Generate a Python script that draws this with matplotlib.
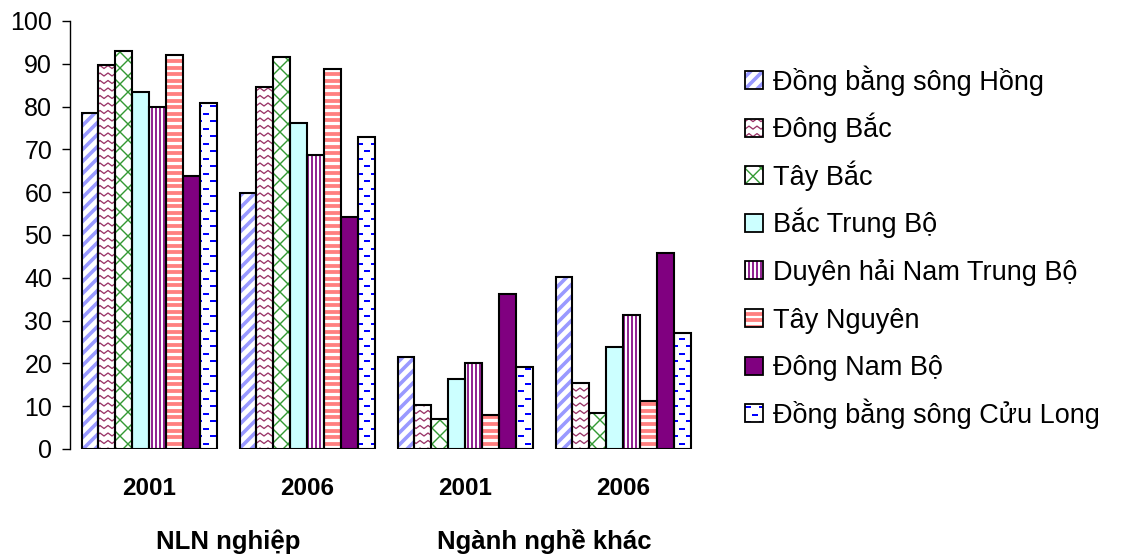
import numpy as np
import matplotlib
matplotlib.use("Agg")
import matplotlib.pyplot as plt
from matplotlib.collections import LineCollection
from matplotlib.patches import Rectangle
from matplotlib.transforms import IdentityTransform, blended_transform_factory
from matplotlib.legend_handler import HandlerBase

plt.rcParams["font.family"] = ["Liberation Sans", "DejaVu Sans"]

# ---- data -------------------------------------------------------------
year_labels = ["2001", "2006", "2001", "2006"]
sector_labels = ["NLN nghiệp", "Ngành nghề khác"]

regions = [
    "Đồng bằng sông Hồng",
    "Đông Bắc",
    "Tây Bắc",
    "Bắc Trung Bộ",
    "Duyên hải Nam Trung Bộ",
    "Tây Nguyên",
    "Đông Nam Bộ",
    "Đồng bằng sông Cửu Long",
]

dong_bang_song_hong = [78.5, 59.8, 21.5, 40.2]
dong_bac = [89.7, 84.5, 10.3, 15.5]
tay_bac = [92.9, 91.6, 7.0, 8.3]
bac_trung_bo = [83.5, 76.1, 16.4, 23.8]
duyen_hai_nam_trung_bo = [79.8, 68.7, 20.0, 31.2]
tay_nguyen = [92.0, 88.7, 8.0, 11.3]
dong_nam_bo = [63.9, 54.2, 36.1, 45.7]
dong_bang_song_cuu_long = [80.8, 72.8, 19.1, 27.1]

series = [dong_bang_song_hong, dong_bac, tay_bac, bac_trung_bo,
          duyen_hai_nam_trung_bo, tay_nguyen, dong_nam_bo,
          dong_bang_song_cuu_long]

# fill style of each region: (pattern kind, background, pattern colour)
styles = [
    ("diag", "white", "#9999FF"),
    ("zigzag", "white", "#993366"),
    ("cross", "white", "#339933"),
    (None, "#CCFFFF", None),
    ("vstripe", "white", "#800080"),
    ("hstripe", "white", "#FF8080"),
    (None, "#800080", None),
    ("dash", "white", "#0000FF"),
]

FS_TICK = 18
FS_YEAR = 17.5
FS_SECTOR = 18.5
FS_LEG = 19.5
PX = 0.72  # points per pixel at 100 dpi


def pattern_segments(kind, x0, y0, x1, y1):
    """Line segments (pixel space) tiling the box for a given fill pattern."""
    segs = []
    if kind == "diag":
        p = 12.0
        for c in np.arange(np.floor((x0 - y1) / p) * p, x1 - y0 + p, p):
            segs.append([(y0 + c - 2, y0 - 2), (y1 + c + 2, y1 + 2)])
        return segs, 3.6 * PX
    if kind == "cross":
        p = 16.0
        for c in np.arange(np.floor((x0 - y1) / p) * p, x1 - y0 + p, p):
            segs.append([(y0 + c - 2, y0 - 2), (y1 + c + 2, y1 + 2)])
        for c in np.arange(np.floor((x0 + y0) / p) * p, x1 + y1 + p, p):
            segs.append([(c - y0 + 2, y0 - 2), (c - y1 - 2, y1 + 2)])
        return segs, 1.4 * PX
    if kind == "zigzag":
        py, px, amp = 7.5, 8.0, 3.0
        xs = np.arange(np.floor(x0 / px) * px - px, x1 + px, px / 2)
        for r in np.arange(np.floor(y0 / py) * py - py, y1 + py, py):
            pts = [(xx, r + (amp if i % 2 else 0.0)) for i, xx in enumerate(xs)]
            segs.append(pts)
        return segs, 1.3 * PX
    if kind == "vstripe":
        p = 4.0
        for xx in np.arange(np.floor(x0 / p) * p, x1 + p, p):
            segs.append([(xx, y0 - 1), (xx, y1 + 1)])
        return segs, 1.7 * PX
    if kind == "hstripe":
        p = 6.6
        for yy in np.arange(np.floor(y0 / p) * p, y1 + p, p):
            segs.append([(x0 - 1, yy), (x1 + 1, yy)])
        return segs, 3.8 * PX
    if kind == "dash":
        py, px, ln = 7.5, 14.0, 5.5
        for r in np.arange(np.floor(y0 / py) * py, y1 + py, py):
            shift = (int(round(r / py)) % 2) * px / 2
            for xx in np.arange(np.floor(x0 / px) * px - px + shift, x1 + px, px):
                segs.append([(xx, r), (xx + ln, r)])
        return segs, 2.0 * PX
    return segs, 1.0


# ---- figure -----------------------------------------------------------
W, H = 1134, 556
fig = plt.figure(figsize=(W / 100, H / 100), dpi=100)
ax_left, ax_right, ax_top, ax_bottom = 70, 702, 21, 449
ax = fig.add_axes([ax_left / W, (H - ax_bottom) / H,
                   (ax_right - ax_left) / W, (ax_bottom - ax_top) / H])
ax.set_xlim(-0.5, 3.5)
ax.set_ylim(0, 100)

x = np.arange(len(year_labels))
n = len(series)
bw = 135.0 / 158.0 / n

for i, (vals, (kind, face, pcol)) in enumerate(zip(series, styles)):
    pos = x + (i - (n - 1) / 2) * bw
    bars = ax.bar(pos, vals, width=bw, color=face, edgecolor="none",
                  linewidth=0, zorder=2)
    if kind is not None:
        for patch in bars.patches:
            (dx0, dy0), (dx1, dy1) = ax.transData.transform(
                [[patch.get_x(), patch.get_y()],
                 [patch.get_x() + patch.get_width(),
                  patch.get_y() + patch.get_height()]])
            segs, lw = pattern_segments(kind, dx0, dy0, dx1, dy1)
            lc = LineCollection(segs, colors=pcol, linewidths=lw,
                                transform=IdentityTransform(), zorder=2.5,
                                capstyle="butt")
            ax.add_collection(lc, autolim=False)
            lc.set_clip_path(patch.get_path(), patch.get_transform())
    ax.bar(pos, vals, width=bw, fill=False, edgecolor="black",
           linewidth=1.5, zorder=3)

# axes styling
for side in ("top", "right", "bottom"):
    ax.spines[side].set_visible(False)
ax.spines["left"].set_linewidth(1.0)
ax.set_yticks(np.arange(0, 101, 10))
ax.tick_params(axis="y", direction="out", length=5.8, width=1.0,
               pad=7, labelsize=FS_TICK)
ax.set_xticks(x)
ax.set_xticklabels(year_labels, fontweight="bold", fontsize=FS_YEAR)
ax.tick_params(axis="x", length=0, pad=20)

trans = blended_transform_factory(ax.transData, ax.transAxes)
for j, lab in enumerate(sector_labels):
    ax.text(x[2 * j:2 * j + 2].mean(), -100 / 428, lab, transform=trans,
            ha="center", va="baseline", fontsize=FS_SECTOR,
            fontweight="bold")


# ---- legend -----------------------------------------------------------
SQ = 13.0  # legend swatch size, points


class PatternHandler(HandlerBase):
    def __init__(self, kind, face, pcol):
        super().__init__()
        self.kind, self.face, self.pcol = kind, face, pcol

    def create_artists(self, legend, orig_handle, xdescent, ydescent,
                       width, height, fontsize, trans):
        x0 = -xdescent
        y0 = 0.358 * fontsize - SQ / 2
        base = Rectangle((x0, y0), SQ, SQ, facecolor=self.face,
                         edgecolor="none", transform=trans)
        arts = [base]
        if self.kind is not None:
            k = 100 / 72.0
            segs, lw = pattern_segments(self.kind, 0, 0, SQ * k, SQ * k)
            segs = [[(x0 + a / k, y0 + b / k) for a, b in s] for s in segs]
            lc = LineCollection(segs, colors=self.pcol, linewidths=lw,
                                transform=trans, capstyle="butt")
            lc.set_clip_path(base)
            arts.append(lc)
        outline = Rectangle((x0, y0), SQ, SQ, facecolor="none",
                            edgecolor="black", linewidth=1.3, transform=trans)
        arts.append(outline)
        return arts


proxies = [Rectangle((0, 0), 1, 1) for _ in regions]
hmap = {p: PatternHandler(*st) for p, st in zip(proxies, styles)}
fig.legend(proxies, regions, handler_map=hmap, loc="upper left",
           bbox_to_anchor=(745 / W, 1 - 63.0 / H), frameon=False,
           fontsize=FS_LEG, handlelength=SQ / FS_LEG, handleheight=1.65,
           handletextpad=0.35, labelspacing=0.44, borderpad=0,
           borderaxespad=0)

fig.savefig("out.png", dpi=100)
